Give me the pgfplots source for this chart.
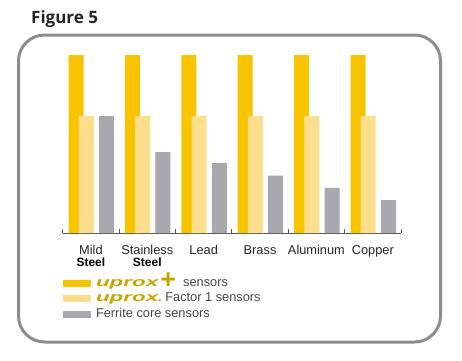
\documentclass[border=0pt]{standalone}
\usepackage{pgfplots}
\pgfplotsset{compat=1.18}
\usepackage{fontspec}
\usepackage{graphicx}
\setmainfont{Liberation Sans}
\newfontfamily\titlefont{Open Sans}
\definecolor{ygold}{RGB}{248,196,0}
\definecolor{ylight}{RGB}{252,222,140}
\definecolor{fgray}{RGB}{168,168,174}
\definecolor{bordercol}{RGB}{140,140,145}
\definecolor{logo}{RGB}{200,165,0}
\definecolor{txt}{RGB}{70,70,70}
\newcommand{\uprox}{\textcolor{logo}{\scalebox{1.75}[1.0]{\bfseries\itshape uprox}}}
\newcommand{\steel}{{\fontsize{12}{12}\selectfont\bfseries\color{black} Steel}}
\begin{document}
\begin{tikzpicture}[x=1pt,y=1pt]
\path[use as bounding box] (0,0) rectangle (462,360);
\fill[white] (0,0) rectangle (462,360);
\draw[bordercol, line width=3pt, rounded corners=26pt] (18.5,18) rectangle (440.5,325);
\node[anchor=base west, inner sep=0pt, font=\titlefont\bfseries\fontsize{17}{20}\selectfont, text=black!85] at (31,336.7) {Figure 5};
\begin{axis}[
  at={(62.7pt,127pt)}, anchor=south west,
  scale only axis, width=338.3pt, height=178pt,
  xmin=-0.5, xmax=5.5, ymin=0, ymax=100,
  axis x line=bottom, axis y line=none,
  axis line style={-, draw=black!65, line width=0.8pt},
  xtick={0,...,5},
  xticklabels={Mild\\\steel, Stainless\\\steel, Lead, Brass, Aluminum, Copper},
  major tick length=0pt,
  extra x ticks={-0.5,0.5,1.5,2.5,3.5,4.5,5.5},
  extra x tick labels={},
  extra x tick style={major tick length=4pt, tick align=inside, tick style={draw=black!65, line width=0.8pt}},
  ytick=\empty,
  xticklabel style={font=\fontsize{12.8}{12}\selectfont, align=center, text=black!85, inner sep=0pt, anchor=north, yshift=-12.5pt},
  clip=false,
  legend cell align=left,
  legend style={at={(0,0)}, anchor=north west, xshift=0.3pt, yshift=-43.75pt, draw=none, fill=none, inner sep=0pt, outer sep=0pt, row sep=3pt, column sep=5pt, font=\fontsize{12.8}{14}\selectfont, text=txt, nodes={inner sep=0pt, anchor=west, text height=9.5pt, text depth=3pt}},
]
\addplot[ybar, bar width=15pt, bar shift=-14.8pt, fill=ygold, draw=none,
  legend image code/.code={\fill[ygold] (0pt,-3.5pt) rectangle (28pt,3.5pt);}]
  coordinates {(0,100) (1,100) (2,100) (3,100) (4,100) (5,100)};
\addlegendentry{\uprox\,\textcolor{logo}{\raisebox{-2pt}{\scalebox{2.1}{\bfseries +}}}\ \ sensors}
\addplot[ybar, bar width=15pt, bar shift=-4.6pt, fill=ylight, draw=none,
  legend image code/.code={\fill[ylight] (0pt,-3.5pt) rectangle (28pt,3.5pt);}]
  coordinates {(0,65.7) (1,65.7) (2,65.7) (3,65.7) (4,65.7) (5,65.7)};
\addlegendentry{\uprox\textcolor{logo}{\bfseries .}\ Factor 1 sensors}
\addplot[ybar, bar width=15pt, bar shift=15.7pt, fill=fgray, draw=none,
  legend image code/.code={\fill[fgray] (0pt,-3.5pt) rectangle (28pt,3.5pt);}]
  coordinates {(0,65.7) (1,45.5) (2,39.3) (3,32.2) (4,25.4) (5,18.5)};
\addlegendentry{Ferrite core sensors}
\end{axis}
\end{tikzpicture}
\end{document}
